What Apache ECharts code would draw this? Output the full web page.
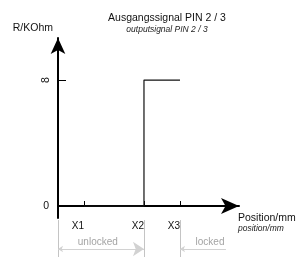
<!DOCTYPE html>
<html>
<head>
<meta charset="utf-8">
<script src="https://cdn.jsdelivr.net/npm/echarts@6/dist/echarts.min.js"></script>
<style>
  html, body { margin: 0; padding: 0; background: #fff; }
  #chart { width: 296px; height: 257px; }
</style>
</head>
<body>
<div id="chart"></div>
<script>
// positions on the x axis (arbitrary units, 0..10) and their labels
var xTicks = [1.44, 4.75, 6.74];
var xTickLabels = ['X1', 'X2', 'X3'];
var yTicks = [0, 8];
// output signal: 0 from X1 to X2, then 8 up to X3
var signal = [[1.44, 0], [4.75, 0], [4.75, 8], [6.74, 8]];
// dimension band under the axis
var bandEdges = [0, 4.75, 6.74];
var unlockedRange = [0, 4.75];
var lockedRange = [6.74, 9.28];
var bandLabels = [['unlocked', 2.2], ['locked', 8.4]];

var font = '"Liberation Sans", Arial, sans-serif';
var grey = '#8c8c8c';
var bandTop = -0.89, bandBottom = -3.4, arrowRow = -2.73, labelRow = -2.33;

var myChart = echarts.init(document.getElementById('chart'));

var option = {
    animation: false,
    textStyle: { fontFamily: font },
    title: {
        text: 'Ausgangssignal PIN 2 / 3',
        subtext: 'outputsignal PIN 2 / 3',
        left: 162, top: 8, textAlign: 'center',
        itemGap: 1,
        textStyle: { fontSize: 10.5, fontWeight: 'normal', color: '#111', fontFamily: font },
        subtextStyle: { fontSize: 8.5, fontStyle: 'italic', color: '#222', fontFamily: font }
    },
    grid: { left: 58, right: 57, top: 38, bottom: 39, containLabel: false, outerBoundsMode: 'none' },
    xAxis: {
        type: 'value', min: 0, max: 10,
        name: '{a|Position/mm}\n{b|position/mm}',
        nameLocation: 'end', nameGap: -1,
        nameTextStyle: {
            align: 'left', verticalAlign: 'top', padding: [7, 0, 0, 0],
            rich: {
                a: { fontSize: 10.5, color: '#111', fontFamily: font, lineHeight: 11 },
                b: { fontSize: 8.5, fontStyle: 'italic', color: '#222', fontFamily: font, lineHeight: 9 }
            }
        },
        axisLine: { lineStyle: { color: '#000', width: 2 }, symbol: ['none', 'arrow'], symbolSize: [12, 18] },
        axisTick: { show: true, inside: true, length: 5, customValues: xTicks, lineStyle: { color: '#000', width: 1 } },
        axisLabel: {
            customValues: xTicks, margin: 3, fontSize: 10, color: '#111', align: 'right',
            formatter: function (v) { return xTickLabels[xTicks.indexOf(v)]; }
        },
        splitLine: { show: false }
    },
    yAxis: [{
        type: 'value', min: -0.76, max: 10.67,
        name: 'R/KOhm', nameLocation: 'end', nameGap: 4,
        nameTextStyle: { align: 'right', verticalAlign: 'bottom', fontSize: 10.5, color: '#111', padding: [0, 5, 0, 0] },
        axisLine: { lineStyle: { color: '#000', width: 2 }, symbol: ['none', 'arrow'], symbolSize: [11, 16] },
        axisTick: { show: true, inside: true, length: 8, customValues: yTicks, lineStyle: { color: '#000', width: 1 } },
        axisLabel: {
            customValues: [0], margin: 9, fontSize: 10.5, color: '#111'
        },
        splitLine: { show: false }
    }, {
        type: 'value', min: -0.76, max: 10.67, position: 'left',
        axisLine: { show: false },
        axisTick: { show: false },
        axisLabel: { customValues: [8], rotate: 90, margin: 6, fontSize: 10.5, color: '#111' },
        splitLine: { show: false }
    }],
    series: [{
        type: 'line',
        data: signal,
        symbol: 'none',
        lineStyle: { color: '#111', width: 1.2 },
        clip: false
    }, {
        type: 'lines',
        coordinateSystem: 'cartesian2d',
        clip: false,
        silent: true,
        lineStyle: { color: '#c4c4c4', width: 1, opacity: 1 },
        data: bandEdges.map(function (x) { return { coords: [[x, bandTop], [x, bandBottom]] }; })
    }, {
        type: 'lines',
        coordinateSystem: 'cartesian2d',
        clip: false,
        silent: true,
        symbol: ['arrow', 'arrow'],
        symbolSize: [5, 11],
        lineStyle: { color: '#d2d2d2', width: 1, opacity: 1 },
        itemStyle: { color: grey },
        data: [{ coords: [[unlockedRange[0], arrowRow], [unlockedRange[1], arrowRow]] }]
    }, {
        type: 'lines',
        coordinateSystem: 'cartesian2d',
        clip: false,
        silent: true,
        symbol: ['arrow', 'none'],
        symbolSize: [5, 11],
        lineStyle: { color: '#d2d2d2', width: 1, opacity: 1 },
        itemStyle: { color: grey },
        data: [{ coords: [[lockedRange[0], arrowRow], [lockedRange[1], arrowRow]] }]
    }, {
        type: 'scatter',
        clip: false,
        silent: true,
        symbolSize: 0,
        data: bandLabels.map(function (b) { return { name: b[0], value: [b[1], labelRow] }; }),
        label: {
            show: true, position: 'inside', formatter: '{b}',
            fontSize: 10, color: grey, fontFamily: font
        }
    }]
};

myChart.setOption(option);
</script>
</body>
</html>
